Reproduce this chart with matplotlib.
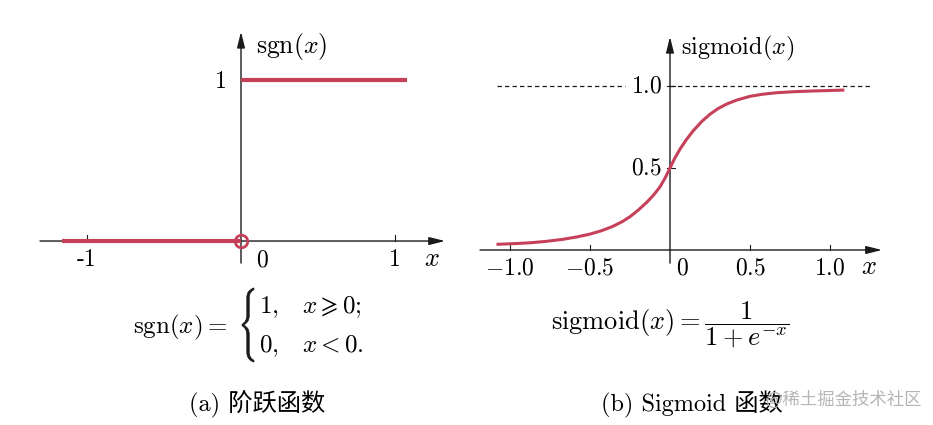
import matplotlib
matplotlib.use("Agg")
import matplotlib.pyplot as plt
from matplotlib.patches import PathPatch
from matplotlib.textpath import TextPath
from matplotlib.transforms import Affine2D, IdentityTransform

# step function (left panel)
STEP_NEG_X = [-1.16, 0.0]
STEP_NEG_Y = [0.0, 0.0]
STEP_POS_X = [0.0, 1.08]
STEP_POS_Y = [1.0, 1.0]
STEP_XTICKS = [-1, 1]
STEP_XLABELS = ["-1", "1"]

# sigmoid curve (right panel)
SIG_X = [-1.075, -0.95, -0.875, -0.78, -0.67, -0.58, -0.5, -0.43, -0.36, -0.30,
         -0.25, -0.2, -0.146, -0.10, -0.0625, -0.03, 0.0, 0.03, 0.0625, 0.1,
         0.146, 0.2, 0.25, 0.3, 0.354, 0.42, 0.5, 0.58, 0.667, 0.77, 0.875,
         0.98, 1.08]
SIG_Y = [0.035, 0.04, 0.044, 0.052, 0.065, 0.08, 0.097, 0.117, 0.143, 0.172,
         0.203, 0.242, 0.29, 0.338, 0.385, 0.44, 0.50, 0.56, 0.615, 0.67,
         0.728, 0.785, 0.828, 0.862, 0.89, 0.915, 0.937, 0.95, 0.959, 0.965,
         0.969, 0.972, 0.975]
SIG_XTICKS = [-1.0, -0.5, 0.5, 1.0]
SIG_XLABELS = [r"$-1.0$", r"$-0.5$", r"$0.5$", r"$1.0$"]
SIG_YTICKS = [0.5, 1.0]
SIG_YLABELS = [r"$0.5$", r"$1.0$"]

RED = "#c6405a"
INK = "#1a1a1a"
W, H = 933, 425

plt.rcParams["font.family"] = ["cmr10", "Noto Sans CJK SC"]
plt.rcParams["mathtext.fontset"] = "cm"
plt.rcParams["axes.unicode_minus"] = False

fig = plt.figure(figsize=(W / 100, H / 100), dpi=100)
fig.patch.set_facecolor("white")


def add_axes_px(x0, y0, x1, y1):
    ax = fig.add_axes([x0 / W, 1 - y1 / H, (x1 - x0) / W, (y1 - y0) / H])
    ax.set_axis_off()
    return ax


def arrow(ax, start, end):
    ax.annotate("", xy=end, xytext=start,
                arrowprops=dict(arrowstyle="-|>,head_length=0.8,head_width=0.2",
                                mutation_scale=12, lw=1.0, color=INK,
                                shrinkA=0, shrinkB=0))


def xtick(ax, x, h):
    ax.plot([x, x], [0, h], color=INK, lw=0.8)


def ftext(x, y, s, **kw):
    fig.text(x / W, 1 - y / H, s, **kw)


def brace(x0, y0, x1, y1):
    """Left curly brace stretched into the pixel box (x0, y0)-(x1, y1), y from top."""
    path = TextPath((0, 0), r"$\{$", size=40)
    ext = path.get_extents()
    tr = (Affine2D().translate(-ext.x0, -ext.y0)
          .scale((x1 - x0) / ext.width, (y1 - y0) / ext.height)
          .translate(x0, H - y1))
    fig.add_artist(PathPatch(path, transform=tr + IdentityTransform(),
                             facecolor=INK, edgecolor=INK, lw=0.5))


# ---- left: step function ----
ax = add_axes_px(30, 20, 450, 270)
ax.set_xlim(-1.370, 1.357)
ax.set_ylim(-0.180, 1.373)
arrow(ax, (-1.305, 0), (1.325, 0))
arrow(ax, (0, -0.137), (0, 1.30))
for t in STEP_XTICKS:
    xtick(ax, t, 0.035)
ax.plot(STEP_NEG_X, STEP_NEG_Y, color=RED, lw=3.0, solid_capstyle="butt", zorder=3)
ax.plot(STEP_POS_X, STEP_POS_Y, color=RED, lw=3.0, solid_capstyle="butt", zorder=3)
ax.plot([0], [0], marker="o", markersize=9, markerfacecolor="none",
        markeredgecolor=RED, markeredgewidth=2.0, zorder=4)
for t, lab in zip(STEP_XTICKS, STEP_XLABELS):
    ax.text(t, -0.12, lab, ha="center", va="center", fontsize=17)
ax.text(0.14, -0.12, r"$0$", ha="center", va="center", fontsize=17)
ax.text(1.24, -0.11, r"$x$", ha="center", va="center", fontsize=19)
ax.text(-0.1, 0.99, r"$1$", ha="right", va="center", fontsize=17)
ax.text(0.10, 1.21, r"$\mathrm{sgn}(x)$", ha="left", va="center", fontsize=18.5)

# ---- right: sigmoid ----
ax = add_axes_px(470, 20, 900, 275)
ax.set_xlim(-1.25, 1.4375)
ax.set_ylim(-0.1524, 1.4024)
arrow(ax, (-1.1875, 0), (1.325, 0))
arrow(ax, (0, -0.08), (0, 1.30))
for t in SIG_XTICKS:
    xtick(ax, t, 0.03)
for t in SIG_YTICKS:
    ax.plot([-0.02, 0.03], [t, t], color=INK, lw=0.8)
ax.plot([-1.08, -0.28], [1, 1], color=INK, lw=0.9, ls=(0, (3.5, 2.5)))
ax.plot([0.0, 1.26], [1, 1], color=INK, lw=0.9, ls=(0, (3.5, 2.5)))
ax.plot(SIG_X, SIG_Y, color=RED, lw=2.2, zorder=3)
for t, lab in zip(SIG_XTICKS, SIG_XLABELS):
    ax.text(t, -0.11, lab, ha="center", va="center", fontsize=17)
ax.text(0.08, -0.11, r"$0$", ha="center", va="center", fontsize=17)
ax.text(1.24, -0.105, r"$x$", ha="center", va="center", fontsize=19)
for t, lab in zip(SIG_YTICKS, SIG_YLABELS):
    ax.text(-0.05, t, lab, ha="right", va="center", fontsize=17)
ax.text(0.07, 1.23, r"$\mathrm{sigmoid}(x)$", ha="left", va="center", fontsize=17.5)

# ---- formulas ----
ftext(133, 333, r"$\mathrm{sgn}(x) =$", ha="left", va="baseline", fontsize=18)
brace(242, 288, 254, 362)
ftext(259, 313, r"$1,$", ha="left", va="baseline", fontsize=18)
ftext(302, 313, r"$x \geqslant 0;$", ha="left", va="baseline", fontsize=18)
ftext(259, 352, r"$0,$", ha="left", va="baseline", fontsize=18)
ftext(302, 352, r"$x < 0.$", ha="left", va="baseline", fontsize=18)
ftext(670, 325, r"$\mathrm{sigmoid}(x) = \dfrac{1}{1+e^{-x}}$",
      ha="center", va="center", fontsize=19)

# ---- captions ----
ftext(257, 404, "(a) 阶跃函数", ha="center", va="center", fontsize=17.5)
ftext(692, 404, "(b) Sigmoid 函数", ha="center", va="center", fontsize=17.5)
ftext(766, 400, "@稀土掘金技术社区", ha="left", va="center",
      fontsize=12.5, color="#b5b5b5", family=["Noto Sans CJK SC"])

fig.savefig("out.png", dpi=100, facecolor="white")
